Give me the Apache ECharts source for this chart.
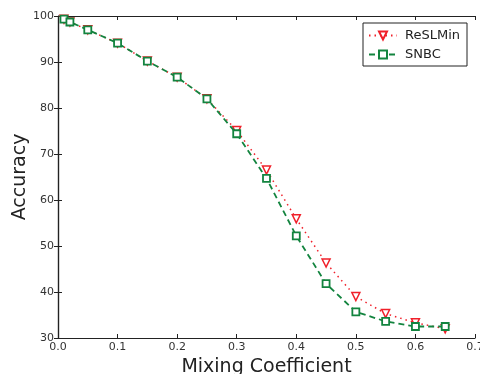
<!DOCTYPE html>
<html>
<head>
<meta charset="utf-8">
<script src="https://cdn.jsdelivr.net/npm/echarts@6/dist/echarts.min.js"></script>
<style>
  html, body { margin: 0; padding: 0; background: #fff; }
  #chart { width: 480px; height: 374px; }
</style>
</head>
<body>
<div id="chart"></div>
<script>
const mixing = [0.01, 0.02, 0.05, 0.1, 0.15, 0.2, 0.25, 0.3, 0.35, 0.4, 0.45, 0.5, 0.55, 0.6, 0.65]
const reslmin = [99.3, 98.7, 97.0, 94.1, 90.2, 86.7, 82.0, 75.1, 66.5, 55.9, 46.3, 39.0, 35.3, 33.3, 32.0]
const snbc = [99.3, 98.7, 97.0, 94.1, 90.2, 86.7, 82.0, 74.4, 64.7, 52.2, 41.8, 35.7, 33.6, 32.5, 32.5]

const RED = '#f0202a'
const GREEN = '#13843f'
const FONT = 'DejaVu Sans'

const pairs = (ys) => mixing.map((x, i) => [x, ys[i]])

const chart = echarts.init(document.getElementById('chart'))

const frameLine = { show: true, lineStyle: { color: '#222', width: 1.2 } }
const innerTick = { show: true, inside: true, length: 4, lineStyle: { color: '#222' } }

chart.setOption({
  animation: false,
  grid: { left: 58, right: 5, top: 16, bottom: 36, outerBoundsMode: 'none', containLabel: false },
  legend: {
    orient: 'vertical',
    left: 363,
    top: 23,
    padding: [6, 7, 5, 5],
    itemGap: 6,
    itemWidth: 28,
    itemHeight: 10,
    borderColor: '#222',
    borderWidth: 1,
    textStyle: { fontFamily: FONT, fontSize: 13, color: '#222', padding: [0, 0, 0, 3] },
    data: ['ReSLMin', 'SNBC']
  },
  xAxis: [{
    type: 'value',
    min: 0, max: 0.7, interval: 0.1,
    name: 'Mixing Coefficient',
    nameLocation: 'middle',
    nameGap: 20,
    nameTextStyle: { fontFamily: FONT, fontSize: 19, color: '#222' },
    axisLine: frameLine,
    axisTick: innerTick,
    splitLine: { show: false },
    axisLabel: { fontFamily: FONT, fontSize: 11, color: '#333', margin: 4, formatter: v => v.toFixed(1) }
  }, {
    type: 'value',
    position: 'top',
    min: 0, max: 0.7, interval: 0.1,
    axisLine: frameLine,
    axisTick: innerTick,
    axisLabel: { show: false },
    splitLine: { show: false }
  }],
  yAxis: [{
    type: 'value',
    min: 30, max: 100, interval: 10,
    name: 'Accuracy',
    nameLocation: 'middle',
    nameGap: 28,
    nameMoveOverlap: false,
    nameTextStyle: { fontFamily: FONT, fontSize: 19, color: '#222' },
    axisLine: frameLine,
    axisTick: innerTick,
    splitLine: { show: false },
    axisLabel: { fontFamily: FONT, fontSize: 11, color: '#333', margin: 4 }
  }, {
    type: 'value',
    position: 'right',
    min: 30, max: 100, interval: 10,
    axisLine: frameLine,
    axisTick: innerTick,
    axisLabel: { show: false },
    splitLine: { show: false }
  }],
  series: [{
    name: 'ReSLMin',
    type: 'line',
    data: pairs(reslmin),
    symbol: 'triangle',
    symbolRotate: 180,
    symbolSize: 8,
    itemStyle: { color: '#fff', borderColor: RED, borderWidth: 1.5 },
    lineStyle: { color: RED, width: 1.5, type: [1.5, 4] },
    z: 2
  }, {
    name: 'SNBC',
    type: 'line',
    data: pairs(snbc),
    symbol: 'rect',
    symbolSize: 7,
    itemStyle: { color: '#fff', borderColor: GREEN, borderWidth: 1.8 },
    lineStyle: { color: GREEN, width: 1.8, type: [6, 4] },
    z: 3
  }]
})
</script>
</body>
</html>
